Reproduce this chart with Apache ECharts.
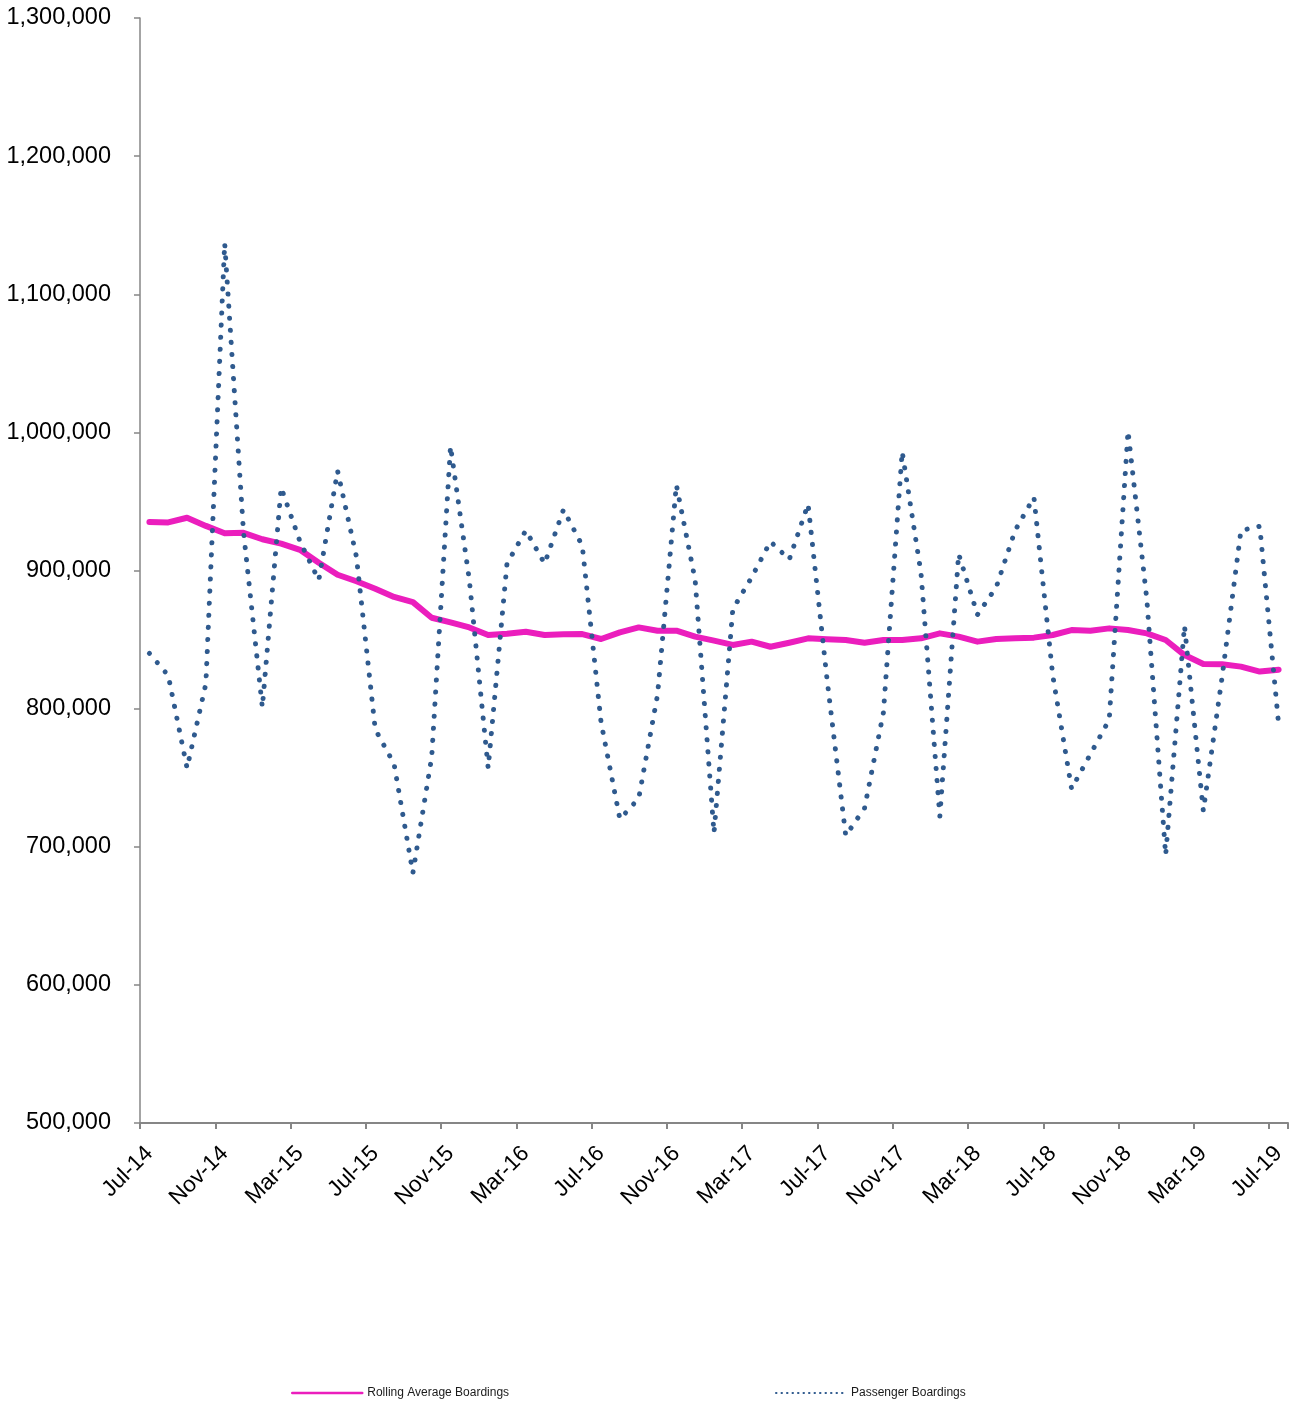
<!DOCTYPE html>
<html lang="en">
<head>
    <meta charset="UTF-8">
    <title>Passenger Boardings</title>
    <script type="text/javascript" src="https://cdn.jsdelivr.net/npm/echarts@6/dist/echarts.min.js"></script>
    <style>
        html, body { margin: 0; padding: 0; background: #fff; }
    </style>
</head>
<body>
    <div id="container" style="width:1296px;height:1404px"></div>

    <script type="text/javascript">
        // monthly categories, Jul-14 .. Jul-19
        var months = [
            'Jul-14','Aug-14','Sep-14','Oct-14','Nov-14','Dec-14',
            'Jan-15','Feb-15','Mar-15','Apr-15','May-15','Jun-15','Jul-15','Aug-15','Sep-15','Oct-15','Nov-15','Dec-15',
            'Jan-16','Feb-16','Mar-16','Apr-16','May-16','Jun-16','Jul-16','Aug-16','Sep-16','Oct-16','Nov-16','Dec-16',
            'Jan-17','Feb-17','Mar-17','Apr-17','May-17','Jun-17','Jul-17','Aug-17','Sep-17','Oct-17','Nov-17','Dec-17',
            'Jan-18','Feb-18','Mar-18','Apr-18','May-18','Jun-18','Jul-18','Aug-18','Sep-18','Oct-18','Nov-18','Dec-18',
            'Jan-19','Feb-19','Mar-19','Apr-19','May-19','Jun-19','Jul-19'
        ];

        var passengerBoardings = [
            840000, 824000, 757000, 818000, 1137000, 928000,
            801000, 960000, 921000, 893000, 972000, 910000, 785000, 760000, 681000, 765000, 990000, 893000,
            757000, 905000, 929000, 905000, 944000, 918000, 790000, 720000, 735000, 810000, 962000, 893000,
            710000, 872000, 895000, 921000, 908000, 948000, 822000, 708000, 728000, 797000, 986000, 898000,
            722000, 912000, 868000, 888000, 929000, 953000, 824000, 742000, 767000, 792000, 1001000, 879000,
            694000, 860000, 726000, 823000, 929000, 932000, 789000
        ];

        var rollingAverage = [
            935100, 934800, 938200, 932300, 927000, 927300,
            922600, 919400, 915000, 905600, 896900, 892200, 886800, 880900, 877100, 865800, 862500, 858800,
            853300, 854200, 855700, 853300, 853800, 854000, 850400, 855200, 858800, 856400, 856400, 852100,
            849200, 846100, 848500, 844800, 847700, 850900, 850200, 849700, 847700, 849700, 849700, 850900,
            854500, 852100, 848500, 850400, 850900, 851400, 853300, 856900, 856400, 858100, 856900, 854500,
            849700, 838800, 832300, 832100, 830400, 826800, 828200
        ];

        var yMin = 500000;
        var yMax = 1300000;
        var yStep = 100000;

        var pink = '#EB1EBD';
        var blue = '#2F5A8E';
        var axisGrey = '#868686';
        var font = '"Liberation Sans", Arial, sans-serif';

        var dom = document.getElementById("container");
        var myChart = echarts.init(dom, null, { renderer: 'canvas' });

        var option = {
            animation: false,
            backgroundColor: '#ffffff',
            textStyle: { fontFamily: font },
            grid: {
                left: 140,
                right: 8,
                top: 18,
                bottom: 281,
                containLabel: false
            },
            legend: [
                {
                    left: 291,
                    top: 1387,
                    padding: 0,
                    itemWidth: 70,
                    itemHeight: 14,
                    textStyle: { fontSize: 12, color: '#1a1a1a', fontFamily: font },
                    data: [{
                        name: 'Rolling Average Boardings',
                        itemStyle: { opacity: 0 },
                        lineStyle: { color: pink, width: 2.5 }
                    }]
                },
                {
                    left: 775,
                    top: 1387,
                    padding: 0,
                    itemWidth: 70,
                    itemHeight: 14,
                    textStyle: { fontSize: 12, color: '#1a1a1a', fontFamily: font },
                    data: [{
                        name: 'Passenger Boardings',
                        itemStyle: { opacity: 0 },
                        lineStyle: { color: blue, width: 2, type: [0.5, 5], cap: 'round' }
                    }]
                }
            ],
            xAxis: {
                type: 'category',
                data: months,
                boundaryGap: true,
                axisLine: { lineStyle: { color: axisGrey, width: 2 } },
                axisTick: { show: true, interval: 3, length: 6, lineStyle: { color: axisGrey, width: 2 } },
                axisLabel: {
                    interval: 3,
                    rotate: 45,
                    margin: 27,
                    fontSize: 22.5,
                    color: '#000',
                    fontFamily: font
                },
                splitLine: { show: false }
            },
            yAxis: {
                type: 'value',
                min: yMin,
                max: yMax,
                interval: yStep,
                axisLine: { show: true, lineStyle: { color: axisGrey, width: 1.5 } },
                axisTick: { show: true, length: 6, lineStyle: { color: axisGrey, width: 1.5 } },
                axisLabel: {
                    margin: 29,
                    fontSize: 23.5,
                    color: '#000',
                    fontFamily: font,
                    formatter: function (v) {
                        return v.toString().replace(/\B(?=(\d{3})+(?!\d))/g, ',');
                    }
                },
                splitLine: { show: false }
            },
            series: [
                {
                    name: 'Rolling Average Boardings',
                    type: 'line',
                    data: rollingAverage,
                    symbol: 'none',
                    z: 2,
                    lineStyle: { color: pink, width: 6, join: 'round', cap: 'round' },
                    itemStyle: { color: pink }
                },
                {
                    name: 'Passenger Boardings',
                    type: 'line',
                    data: passengerBoardings,
                    symbol: 'none',
                    z: 3,
                    lineStyle: { color: blue, width: 5, type: [0.1, 12], cap: 'round', join: 'round' },
                    itemStyle: { color: blue }
                }
            ]
        };

        if (option && typeof option === "object") {
            myChart.setOption(option, true);
        }
    </script>
</body>
</html>
